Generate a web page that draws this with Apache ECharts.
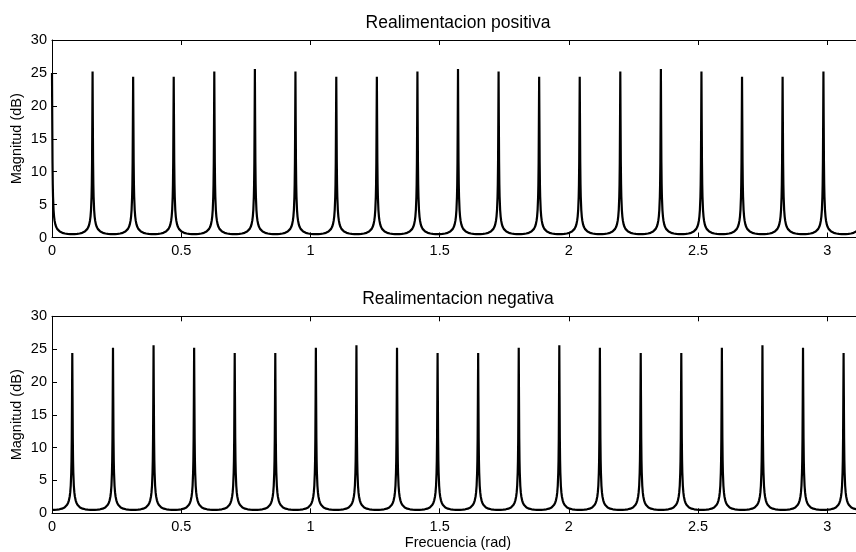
<!DOCTYPE html>
<html>
<head>
<meta charset="utf-8">
<script src="https://cdn.jsdelivr.net/npm/echarts@6/dist/echarts.min.js"></script>
<style>
html,body{margin:0;padding:0;background:#fff;}
#chart{width:856px;height:552px;}
</style>
</head>
<body>
<div id="chart"></div>
<script>
// ---- data ----
const xTicks = [0, 0.5, 1, 1.5, 2, 2.5, 3];
const yTicks = [0, 5, 10, 15, 20, 25, 30];

// Positive feedback: resonance peaks (rad) and their heights
const posPeakFreq = [0, 0.157, 0.314, 0.471, 0.628, 0.785, 0.942, 1.100, 1.257, 1.414, 1.571,
                     1.728, 1.885, 2.042, 2.199, 2.356, 2.513, 2.670, 2.827, 2.985, 3.1416];
const posPeakMag  = [25.0, 25.2, 24.4, 24.4, 25.2, 25.6, 25.2, 24.4, 24.4, 25.2, 25.6,
                     25.2, 24.4, 24.4, 25.2, 25.6, 25.2, 24.4, 24.4, 25.2, 25.0];

// Negative feedback: resonance peaks (rad) and their heights
const negPeakFreq = [0.0785, 0.236, 0.393, 0.550, 0.707, 0.864, 1.021, 1.178, 1.335, 1.492,
                     1.649, 1.806, 1.963, 2.120, 2.278, 2.435, 2.592, 2.749, 2.906, 3.063];
const negPeakMag  = [24.4, 25.2, 25.6, 25.2, 24.4, 24.4, 25.2, 25.6, 25.2, 24.4,
                     24.4, 25.2, 25.6, 25.2, 24.4, 24.4, 25.2, 25.6, 25.2, 24.4];

// Shape of one resonance lobe as seen in the picture: distance from the peak (rad) -> magnitude
const lobeOffset = [0, 0.001, 0.002, 0.003, 0.004, 0.006, 0.008, 0.010, 0.013, 0.016,
                    0.020, 0.025, 0.030, 0.040, 0.050, 0.060, 0.070, 0.0785];
const lobeValue  = [null, 17.8, 11.4, 8.05, 6.2, 4.2, 3.18, 2.56, 1.98, 1.62,
                    1.31, 1.06, 0.90, 0.71, 0.61, 0.55, 0.52, 0.51];

// visible frequency range (the plot runs on past the right edge of the picture)
const xMin = 0, xMax = 3.111;
const dataMax = 3.1416;

function buildCurve(peaks, mags) {
  const pts = [];
  peaks.forEach(function (p, k) {
    for (let i = lobeOffset.length - 1; i >= 1; i--) pts.push([p - lobeOffset[i], lobeValue[i]]);
    pts.push([p, mags[k]]);
    for (let i = 1; i < lobeOffset.length; i++) pts.push([p + lobeOffset[i], lobeValue[i]]);
  });
  return pts.filter(d => d[0] >= xMin - 1e-9 && d[0] <= dataMax + 1e-9)
            .sort((a, b) => a[0] - b[0]);
}

const posData = buildCurve(posPeakFreq, posPeakMag);
const negData = buildCurve(negPeakFreq, negPeakMag);

const FONT = '"Liberation Sans", Arial, Helvetica, sans-serif';
const AX = '#000';

function xAxisPair(gi) {
  const common = {
    type: 'value', gridIndex: gi, min: xMin, max: xMax, interval: 0.5,
    axisLine: {show: true, onZero: false, lineStyle: {color: AX, width: 1}},
    axisTick: {show: true, inside: true, length: 5, lineStyle: {color: AX, width: 1}},
    splitLine: {show: false}
  };
  return [
    Object.assign({}, common, {
      position: 'bottom',
      axisLabel: {show: true, color: '#000', fontSize: 14.5, fontFamily: FONT, margin: 6,
                  showMaxLabel: false,
                  formatter: v => (xTicks.indexOf(+v.toFixed(3)) >= 0 ? String(+v.toFixed(3)) : '')}
    }),
    Object.assign({}, common, {position: 'top', axisLabel: {show: false}})
  ];
}
function yAxisPair(gi) {
  const common = {
    type: 'value', gridIndex: gi, min: 0, max: 30, interval: 5,
    axisLine: {show: true, onZero: false, lineStyle: {color: AX, width: 1}},
    axisTick: {show: true, inside: true, length: 5, lineStyle: {color: AX, width: 1}},
    splitLine: {show: false}
  };
  return [
    Object.assign({}, common, {
      position: 'left',
      axisLabel: {show: true, color: '#000', fontSize: 14.5, fontFamily: FONT, margin: 5,
                  formatter: v => (yTicks.indexOf(v) >= 0 ? String(v) : '')}
    }),
    Object.assign({}, common, {position: 'right', show: true,
      axisLine: {show: false}, axisTick: {show: false}, axisLabel: {show: false}})
  ];
}

const chart = echarts.init(document.getElementById('chart'), null, {renderer: 'canvas'});
chart.setOption({
  animation: false,
  backgroundColor: '#fff',
  grid: [
    {left: 52, top: 40, width: 804, height: 197.5, containLabel: false},
    {left: 52, top: 316.3, width: 804, height: 197, containLabel: false}
  ],
  xAxis: [].concat(xAxisPair(0), xAxisPair(1)),
  yAxis: [].concat(yAxisPair(0), yAxisPair(1)),
  series: [
    {type: 'line', xAxisIndex: 0, yAxisIndex: 0, data: posData, showSymbol: false,
     lineStyle: {color: '#000', width: 2.2}, sampling: 'none', clip: true, z: 1},
    {type: 'line', xAxisIndex: 2, yAxisIndex: 2, data: negData, showSymbol: false,
     lineStyle: {color: '#000', width: 2.2}, sampling: 'none', clip: true, z: 1}
  ]
});

// text placed from the grid coordinates; full plot box spans 0..pi
const px0 = chart.convertToPixel({gridIndex: 0}, [0, 0])[0];
const pxPi = chart.convertToPixel({gridIndex: 0}, [dataMax, 0])[0];
const xMid = (px0 + pxPi) / 2;
const yMid0 = chart.convertToPixel({gridIndex: 0}, [0, 15])[1];
const yMid1 = chart.convertToPixel({gridIndex: 1}, [0, 15])[1];
const yTop0 = chart.convertToPixel({gridIndex: 0}, [0, 30])[1];
const yTop1 = chart.convertToPixel({gridIndex: 1}, [0, 30])[1];
const yBase1 = chart.convertToPixel({gridIndex: 1}, [0, 0])[1];
const T = (text, x, y, size, rot) => ({type: 'text', x: x, y: y, rotation: rot || 0,
  style: {text: text, fontSize: size, fontFamily: FONT, fill: '#000',
          textAlign: 'center', textVerticalAlign: 'middle'}});
chart.setOption({
  graphic: [
    T('Realimentacion positiva', xMid, yTop0 - 17, 17.5),
    T('Realimentacion negativa', xMid, yTop1 - 17, 17.5),
    T('Magnitud (dB)', 16.5, yMid0, 14.5, Math.PI / 2),
    T('Magnitud (dB)', 16.5, yMid1, 14.5, Math.PI / 2),
    T('Frecuencia (rad)', xMid, yBase1 + 30, 14.5)
  ]
});
</script>
</body>
</html>
